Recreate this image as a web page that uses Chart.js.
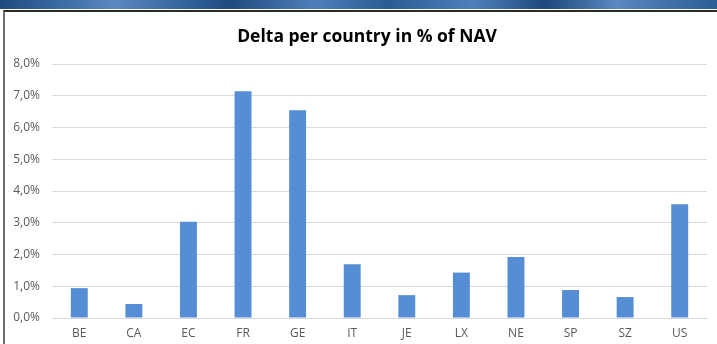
<!DOCTYPE html>
<html>
<head>
<meta charset="utf-8">
<script src="https://cdn.jsdelivr.net/npm/chart.js@4"></script>
<style>
  html, body { margin: 0; padding: 0; background: #fff; }
  body { width: 717px; height: 344px; position: relative; overflow: hidden; }
  #stripe {
    position: absolute; left: 0; top: 0; width: 717px; height: 9px;
    background: linear-gradient(90deg, #1f4a7e 0%, #3a6aa3 8%, #5a88c0 16%, #2a5a92 28%, #1f4a7e 32%,
      #4f7fba 44%, #2b5b94 54%, #4f80bc 66%, #1e487c 76%, #5a88c0 86%, #2c5c96 100%);
  }
  #frame {
    position: absolute; left: 3px; top: 10px; width: 720px; height: 340px;
    border-top: 2px solid #2b2b2b; border-left: 2px solid #6e6e6e;
  }
  #wrap { position: absolute; left: 0; top: 0; width: 717px; height: 344px; }
</style>
</head>
<body>
<div id="stripe"></div>
<div id="frame"></div>
<div id="wrap"><canvas id="chart"></canvas></div>
<script>
// Delta par pays, en % de la NAV
const countries = ["BE", "CA", "EC", "FR", "GE", "IT", "JE", "LX", "NE", "SP", "SZ", "US"];
const deltaPct = [0.94, 0.44, 3.03, 7.14, 6.54, 1.69, 0.72, 1.43, 1.92, 0.88, 0.66, 3.58];
const yTicks = [0, 1, 2, 3, 4, 5, 6, 7, 8];

const COLORS = {
  bar: "#558ed5",
  grid: "#d9d9d9",
  text: "#595959",
};

const fmtPct = (v) => v.toFixed(1).replace(".", ",") + "%";

// le titre de l'original est un peu décalé vers la droite
const shiftTitle = {
  id: "shiftTitle",
  afterLayout(chart) {
    if (chart.titleBlock) chart.titleBlock.left = 27;
  },
};

new Chart(document.getElementById("chart"), {
  type: "bar",
  data: {
    labels: countries,
    datasets: [{
      data: deltaPct,
      backgroundColor: COLORS.bar,
      categoryPercentage: 1,
      barPercentage: 0.31,
    }],
  },
  plugins: [shiftTitle],
  options: {
    responsive: true,
    maintainAspectRatio: false,
    animation: false,
    layout: { padding: { left: 0, right: 10, top: 0, bottom: 0 } },
    plugins: {
      legend: { display: false },
      tooltip: { enabled: false },
      title: {
        display: true,
        text: "Delta per country in % of NAV",
        color: "#000",
        font: { family: "'Open Sans', sans-serif", size: 17.5, weight: "bold" },
        padding: { top: 27, bottom: 16 },
      },
    },
    scales: {
      x: {
        grid: { display: false, drawTicks: false },
        border: { color: COLORS.grid, width: 1 },
        ticks: { color: COLORS.text, font: { family: "'Open Sans', sans-serif", size: 12 }, padding: 8 },
        afterFit: (s) => { s.height = 26; },
      },
      y: {
        min: 0,
        max: 8,
        afterBuildTicks: (s) => { s.ticks = yTicks.map((v) => ({ value: v })); },
        grid: { color: COLORS.grid, drawTicks: false },
        border: { display: false },
        ticks: {
          color: COLORS.text,
          font: { family: "'Open Sans', sans-serif", size: 12 },
          padding: 12,
          callback: (v) => fmtPct(v),
        },
        afterFit: (s) => { s.width = 52; },
      },
    },
  },
});
</script>
</body>
</html>
